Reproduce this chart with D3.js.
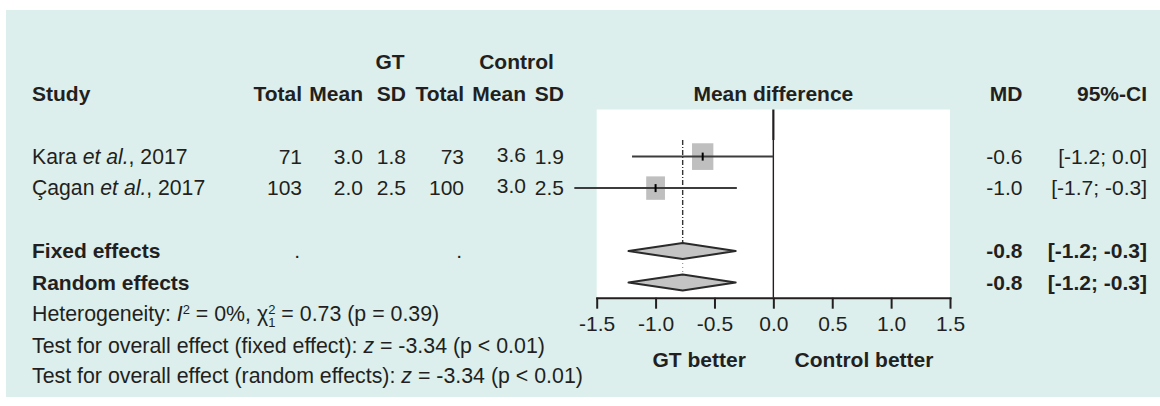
<!DOCTYPE html>
<html>
<head>
<meta charset="utf-8">
<script src="https://cdn.jsdelivr.net/npm/d3@7"></script>
<style>
  body { margin: 0; background: #fff; }
  svg { display: block; font-family: "Liberation Sans", Arial, sans-serif; }
</style>
</head>
<body>
<div class="graph-container"></div>
<script>
// data
const studies = ["Kara", "Çagan"];
const years = [2017, 2017];
const gtTotal = [71, 103];
const gtMean = [3.0, 2.0];
const gtSD = [1.8, 2.5];
const ctrlTotal = [73, 100];
const ctrlMean = [3.6, 3.0];
const ctrlSD = [1.9, 2.5];
const md = [-0.6, -1.0];
const ciLow = [-1.2, -1.69];
const ciHigh = [0.0, -0.31];
const weights = [56.4, 43.6];

const pooledNames = ["Fixed effects", "Random effects"];
const pooledMD = [-0.77, -0.77];
const pooledLow = [-1.23, -1.23];
const pooledHigh = [-0.32, -0.32];

const tickVals = [-1.5, -1.0, -0.5, 0.0, 0.5, 1.0, 1.5];
const colHeaders = ["Total", "Mean", "SD", "Total", "Mean", "SD"];

// layout
const w = 1160;
const h = 406;
const ink = "#231f20";
const fs = 21;
const plotTop = 109.5;
const axisY = 297.7;
const colX = [302, 363, 406, 464, 526, 564];
const mdX = 1022.5;
const ciX = 1147;

const xScale = d3.scaleLinear().domain([-1.5, 1.5]).range([596.7, 950]);
// row index -> vertical centre of that row
const yRow = d3.scaleLinear().domain([0, 4]).range([156.6, 282.6]);
const sizeScale = d3.scaleSqrt().domain([0, 100]).range([0, 28.4]);

const svg = d3.select(".graph-container")
  .append("svg")
  .attr("width", w)
  .attr("height", h)
  .attr("font-size", fs)
  .attr("fill", ink);

// panel background
svg.append("rect")
  .attr("x", 6).attr("y", 10)
  .attr("width", w - 6).attr("height", 387)
  .attr("fill", "#dcefec");

svg.append("rect")
  .attr("x", xScale(-1.5)).attr("y", plotTop)
  .attr("width", xScale(1.5) - xScale(-1.5))
  .attr("height", axisY - plotTop)
  .attr("fill", "#fff");

const base = (i) => yRow(i) + 7;

// headers
svg.append("text").attr("x", 390).attr("y", base(-3)).attr("text-anchor", "middle")
  .attr("font-weight", "bold").text("GT");
svg.append("text").attr("x", 516.5).attr("y", base(-3)).attr("text-anchor", "middle")
  .attr("font-weight", "bold").text("Control");
svg.append("text").attr("x", 32).attr("y", base(-2))
  .attr("font-weight", "bold").text("Study");
svg.selectAll(".colhead")
  .data(colHeaders)
  .enter()
  .append("text")
  .attr("class", "colhead")
  .attr("x", (d, i) => colX[i])
  .attr("y", base(-2))
  .attr("text-anchor", "end")
  .attr("font-weight", "bold")
  .text(d => d);
svg.append("text").attr("x", (xScale(-1.5) + xScale(1.5)) / 2).attr("y", base(-2))
  .attr("text-anchor", "middle").attr("font-weight", "bold").text("Mean difference");
svg.append("text").attr("x", mdX).attr("y", base(-2))
  .attr("text-anchor", "end").attr("font-weight", "bold").text("MD");
svg.append("text").attr("x", ciX).attr("y", base(-2))
  .attr("text-anchor", "end").attr("font-weight", "bold").text("95%-CI");

// study rows
const cols = [gtTotal, gtMean, gtSD, ctrlTotal, ctrlMean, ctrlSD];
const colFmt = [d => d, d => d.toFixed(1), d => d.toFixed(1), d => d, d => d.toFixed(1), d => d.toFixed(1)];

studies.forEach((s, i) => {
  const t = svg.append("text").attr("x", 32).attr("y", base(i)).attr("font-size", 21.2);
  t.append("tspan").text(s + " ");
  t.append("tspan").attr("font-style", "italic").text("et al.");
  t.append("tspan").text(", " + years[i]);

  cols.forEach((c, j) => {
    svg.append("text")
      .attr("x", colX[j])
      .attr("y", base(i) - (j == 4 ? 2 : 0))
      .attr("text-anchor", "end")
      .text(colFmt[j](c[i]));
  });

  svg.append("text").attr("x", mdX).attr("y", base(i)).attr("text-anchor", "end")
    .text(md[i].toFixed(1));
  svg.append("text").attr("x", ciX).attr("y", base(i)).attr("text-anchor", "end")
    .text("[" + ciLow[i].toFixed(1) + "; " + ciHigh[i].toFixed(1) + "]");
});

// pooled rows
pooledNames.forEach((s, k) => {
  const i = k + 3;
  svg.append("text").attr("x", 32).attr("y", base(i))
    .attr("font-weight", "bold").text(s);
  svg.append("text").attr("x", mdX).attr("y", base(i)).attr("text-anchor", "end")
    .attr("font-weight", "bold").text(pooledMD[k].toFixed(1));
  svg.append("text").attr("x", ciX).attr("y", base(i)).attr("text-anchor", "end")
    .attr("font-weight", "bold")
    .text("[" + pooledLow[k].toFixed(1) + "; " + pooledHigh[k].toFixed(1) + "]");
});
// the empty total cells of the fixed row
[0, 3].forEach(j => {
  svg.append("text").attr("x", colX[j] - 2).attr("y", base(3)).attr("text-anchor", "end").text(".");
});

// zero line
svg.append("line")
  .attr("x1", xScale(0)).attr("x2", xScale(0))
  .attr("y1", plotTop).attr("y2", 140)
  .attr("stroke", ink).attr("stroke-width", 2.2);
svg.append("line")
  .attr("x1", xScale(0)).attr("x2", xScale(0))
  .attr("y1", 140).attr("y2", axisY)
  .attr("stroke", ink).attr("stroke-width", 1.4);

// pooled estimate reference lines
svg.append("line")
  .attr("x1", xScale(pooledMD[0])).attr("x2", xScale(pooledMD[0]))
  .attr("y1", 140).attr("y2", yRow(3) - 8)
  .attr("stroke", "#333").attr("stroke-width", 1.4)
  .attr("stroke-dasharray", "5,2,1,2");
svg.append("line")
  .attr("x1", xScale(pooledMD[1])).attr("x2", xScale(pooledMD[1]))
  .attr("y1", yRow(3) + 8).attr("y2", yRow(4) - 8)
  .attr("stroke", "#999").attr("stroke-width", 1.2)
  .attr("stroke-dasharray", "1,3");

// study squares and CIs
svg.selectAll(".sq")
  .data(md)
  .enter()
  .append("rect")
  .attr("class", "sq")
  .attr("x", (d, i) => xScale(d) - sizeScale(weights[i]) / 2)
  .attr("y", (d, i) => yRow(i) - sizeScale(weights[i]) * 0.625)
  .attr("width", (d, i) => sizeScale(weights[i]))
  .attr("height", (d, i) => sizeScale(weights[i]) * 1.25)
  .attr("fill", "#bfbfbf");

svg.selectAll(".ci")
  .data(md)
  .enter()
  .append("line")
  .attr("class", "ci")
  .attr("x1", (d, i) => xScale(ciLow[i]))
  .attr("x2", (d, i) => xScale(ciHigh[i]))
  .attr("y1", (d, i) => yRow(i))
  .attr("y2", (d, i) => yRow(i))
  .attr("stroke", "#3c3c3c")
  .attr("stroke-width", 2);

svg.selectAll(".est")
  .data(md)
  .enter()
  .append("line")
  .attr("class", "est")
  .attr("x1", d => xScale(d))
  .attr("x2", d => xScale(d))
  .attr("y1", (d, i) => yRow(i) - 4)
  .attr("y2", (d, i) => yRow(i) + 4)
  .attr("stroke", "#000")
  .attr("stroke-width", 2);

// diamonds
svg.selectAll(".dia")
  .data(pooledMD)
  .enter()
  .append("path")
  .attr("class", "dia")
  .attr("d", (d, k) => {
    const y = yRow(k + 3);
    return "M" + xScale(pooledLow[k]) + "," + y +
      "L" + xScale(d) + "," + (y - 8) +
      "L" + xScale(pooledHigh[k]) + "," + y +
      "L" + xScale(d) + "," + (y + 8) + "Z";
  })
  .attr("fill", "#c4c4c4")
  .attr("stroke", "#2a2a2a")
  .attr("stroke-width", 2)
  .attr("stroke-linejoin", "round");

// axis
const xAxis = d3.axisBottom(xScale)
  .tickValues(tickVals)
  .tickFormat(d => d.toFixed(1))
  .tickSize(11)
  .tickSizeOuter(0)
  .tickPadding(7);

const ax = svg.append("g")
  .attr("transform", "translate(0," + axisY + ")")
  .call(xAxis);
ax.attr("font-size", fs).attr("font-family", null);
ax.selectAll("path, line").attr("stroke", ink).attr("stroke-width", 2);
ax.select(".domain").attr("stroke-linecap", "square");
ax.selectAll("text").attr("fill", ink);

svg.append("text").attr("x", xScale(-0.63)).attr("y", 366.7)
  .attr("text-anchor", "middle").attr("font-weight", "bold").text("GT better");
svg.append("text").attr("x", xScale(0.77)).attr("y", 366.7)
  .attr("text-anchor", "middle").attr("font-weight", "bold").text("Control better");

// heterogeneity and tests
const footSize = 21.35;
const het = svg.append("text").attr("x", 32).attr("y", base(5)).attr("font-size", footSize);
het.append("tspan").text("Heterogeneity: ");
het.append("tspan").attr("font-style", "italic").text("I");
het.append("tspan").attr("font-size", 13).attr("dy", -7).text("2");
het.append("tspan").attr("dy", 7).text(" = 0%, χ");
het.append("tspan").attr("font-size", 13).attr("dy", -7).text("2");
het.append("tspan").attr("font-size", 13).attr("dx", -7.2).attr("dy", 13).text("1");
het.append("tspan").attr("dy", -6).text(" = 0.73 (p = 0.39)");

const tf = svg.append("text").attr("x", 32).attr("y", base(6)).attr("font-size", footSize);
tf.append("tspan").text("Test for overall effect (fixed effect): ");
tf.append("tspan").attr("font-style", "italic").text("z");
tf.append("tspan").text(" = -3.34 (p < 0.01)");

const tr = svg.append("text").attr("x", 32).attr("y", base(7) - 1).attr("font-size", footSize);
tr.append("tspan").text("Test for overall effect (random effects): ");
tr.append("tspan").attr("font-style", "italic").text("z");
tr.append("tspan").text(" = -3.34 (p < 0.01)");
</script>
</body>
</html>
